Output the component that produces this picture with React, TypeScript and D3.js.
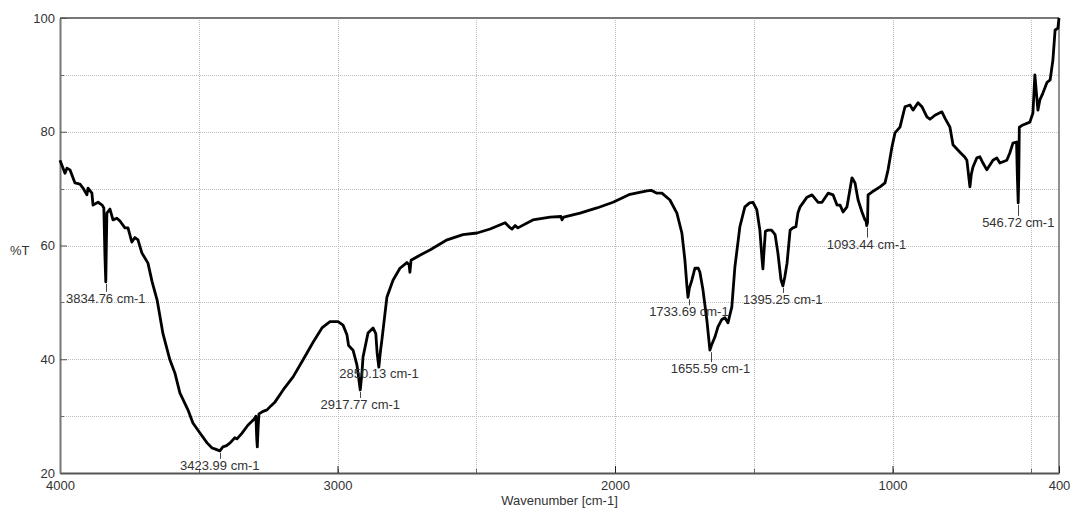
import React, { useRef, useEffect } from 'react';
import * as d3 from 'd3';

// Spectrum trace: [wavenumber cm-1, %T]
const spectrum: [number, number][] = [
  [4000, 75.0], [3982, 72.7], [3975, 73.6], [3964, 73.3], [3957, 72.4], [3946, 71.0],
  [3928, 70.8], [3917, 70.1], [3903, 68.9], [3899, 70.1], [3885, 69.2], [3881, 67.1],
  [3863, 67.6], [3848, 67.1], [3842, 66.6], [3838, 58.0], [3835, 53.6], [3833, 60.0],
  [3831, 65.7], [3820, 66.4], [3809, 64.5], [3795, 64.8], [3784, 64.3], [3766, 63.1],
  [3755, 63.1], [3741, 60.6], [3730, 61.4], [3719, 61.0], [3705, 58.7], [3683, 56.9],
  [3668, 53.6], [3650, 50.4], [3629, 44.5], [3604, 39.9], [3586, 37.6], [3568, 34.1],
  [3539, 31.1], [3521, 28.8], [3495, 27.0], [3470, 25.3], [3452, 24.4], [3440, 24.2],
  [3424, 23.9], [3413, 24.6], [3400, 24.8], [3387, 25.3], [3370, 26.2], [3362, 26.0],
  [3344, 27.0], [3323, 28.4], [3310, 29.0], [3300, 29.5], [3294, 30.0], [3291, 26.0],
  [3289, 24.6], [3286, 28.0], [3283, 30.4], [3270, 30.8], [3254, 31.1], [3240, 31.8],
  [3225, 32.5], [3196, 34.6], [3160, 36.9], [3124, 39.9], [3088, 43.0], [3056, 45.5],
  [3027, 46.6], [2998, 46.6], [2980, 46.0], [2966, 44.3], [2960, 42.4], [2944, 41.6],
  [2930, 39.0], [2918, 34.6], [2912, 37.5], [2908, 40.4], [2890, 44.6], [2872, 45.5],
  [2862, 44.5], [2857, 41.0], [2851, 38.6], [2845, 41.5], [2840, 43.4], [2822, 50.9],
  [2800, 53.9], [2775, 56.0], [2750, 57.0], [2742, 56.6], [2739, 55.3], [2735, 57.4],
  [2703, 58.3], [2667, 59.2], [2605, 61.0], [2548, 61.9], [2497, 62.2], [2450, 62.9],
  [2396, 64.0], [2380, 63.2], [2371, 62.9], [2360, 63.5], [2350, 63.1], [2296, 64.5],
  [2234, 65.0], [2195, 65.1], [2191, 64.5], [2185, 65.0], [2126, 65.7], [2065, 66.6],
  [2007, 67.6], [1946, 69.0], [1885, 69.6], [1870, 69.7], [1849, 69.2], [1831, 69.2],
  [1802, 68.0], [1777, 65.7], [1759, 62.2], [1748, 57.4], [1741, 53.0], [1737, 50.9],
  [1732, 52.5], [1723, 53.9], [1712, 56.0], [1700, 56.0], [1694, 55.3], [1683, 52.2],
  [1669, 46.9], [1658, 41.6], [1652, 42.5], [1640, 43.9], [1629, 45.7], [1615, 47.0],
  [1604, 47.3], [1593, 46.4], [1579, 49.2], [1568, 56.2], [1550, 63.3], [1532, 66.8],
  [1515, 67.5], [1503, 67.6], [1489, 66.3], [1478, 62.7], [1470, 57.5], [1467, 55.9],
  [1463, 59.0], [1458, 62.5], [1449, 62.7], [1436, 62.7], [1423, 61.9], [1413, 58.7],
  [1402, 54.0], [1395, 52.9], [1388, 54.5], [1380, 56.9], [1369, 62.7], [1359, 63.1],
  [1348, 63.3], [1341, 65.7], [1333, 66.8], [1308, 68.5], [1290, 68.9], [1268, 67.6],
  [1254, 67.6], [1232, 69.2], [1214, 68.9], [1200, 67.1], [1189, 67.1], [1178, 65.9],
  [1164, 66.8], [1146, 71.9], [1135, 71.0], [1124, 68.0], [1110, 65.9], [1099, 64.5],
  [1096, 64.5], [1093, 63.5], [1090, 64.0], [1088, 68.9], [1074, 69.4], [1045, 70.3],
  [1027, 71.0], [1016, 73.3], [1002, 77.3], [991, 79.8], [973, 80.8], [955, 84.4],
  [937, 84.7], [926, 83.8], [908, 85.1], [894, 84.4], [876, 82.6], [865, 82.2],
  [847, 82.9], [822, 83.5], [811, 82.4], [793, 80.8], [782, 77.7], [757, 76.4],
  [739, 75.5], [732, 75.0], [725, 72.0], [721, 70.3], [716, 72.5], [710, 73.8],
  [696, 75.4], [685, 75.6], [674, 74.5], [660, 73.3], [638, 75.0], [624, 75.4],
  [613, 74.5], [588, 75.0], [577, 76.3], [566, 78.0], [553, 78.2], [550, 72.0],
  [547, 67.5], [545, 72.0], [543, 80.8], [530, 81.2], [505, 81.7], [494, 83.3],
  [490, 87.0], [487, 90.0], [476, 83.8], [469, 85.6], [458, 86.8], [443, 88.7],
  [432, 89.1], [422, 92.6], [414, 97.9], [404, 98.2], [400, 100.0],
];

// Peak annotations
const peakWavenumbers = [3834.76, 3423.99, 2917.77, 2850.13, 1733.69, 1655.59, 1395.25, 1093.44, 546.72];
const peakDips = [3835, 3424, 2918, 2851, 1737, 1658, 1395, 1093, 547];
// label baseline offset below the dip (px) and whether a marker tick is drawn
const peakLabelOffset = [21, 19, 19, 11, 19, 23, 18, 23, 24];
const peakHasTick = [true, true, true, false, true, true, true, true, true];

const xTickLabels = [4000, 3000, 2000, 1000, 400];
const yTickLabels = [20, 40, 60, 80, 100];
const xGrid = [3500, 3000, 2500, 2000, 1500, 1000, 500];
const yGrid = [30, 40, 50, 60, 70, 80, 90];

const FONT = '"Liberation Sans", Arial, sans-serif';

const App = () => {
  const svgRef = useRef<SVGSVGElement>(null);

  useEffect(() => {
    const svg = d3.select(svgRef.current);
    svg.selectAll('*').remove();

    const left = 60, right = 1059, top = 18, bottom = 473;
    const x = d3.scaleLinear().domain([4000, 400]).range([left, right]);
    const y = d3.scaleLinear().domain([20, 100]).range([bottom, top]);

    svg.append('rect').attr('width', 1070).attr('height', 508).attr('fill', '#fff');

    // grid
    const grid = svg.append('g')
      .attr('stroke', '#bdbdbd')
      .attr('stroke-width', 1)
      .attr('stroke-dasharray', '1,1');
    grid.selectAll('line.v').data(xGrid).join('line')
      .attr('x1', d => Math.round(x(d)) + 0.5).attr('x2', d => Math.round(x(d)) + 0.5)
      .attr('y1', top).attr('y2', bottom);
    grid.selectAll('line.h').data(yGrid).join('line')
      .attr('class', 'h')
      .attr('y1', d => Math.round(y(d)) + 0.5).attr('y2', d => Math.round(y(d)) + 0.5)
      .attr('x1', left).attr('x2', right);

    // frame
    svg.append('line').attr('x1', left).attr('x2', right).attr('y1', top).attr('y2', top)
      .attr('stroke', '#777').attr('stroke-width', 2);
    svg.append('line').attr('x1', right).attr('x2', right).attr('y1', top).attr('y2', bottom)
      .attr('stroke', '#222').attr('stroke-width', 1);

    // minor ticks
    const minor = svg.append('g').attr('stroke', '#666').attr('stroke-width', 1);
    minor.selectAll('line.xm').data(d3.range(3500, 400, -500)).join('line')
      .attr('class', 'xm')
      .attr('x1', d => Math.round(x(d)) + 0.5).attr('x2', d => Math.round(x(d)) + 0.5)
      .attr('y1', bottom).attr('y2', bottom - 4);
    minor.selectAll('line.ym').data(d3.range(30, 100, 20)).join('line')
      .attr('class', 'ym')
      .attr('y1', d => Math.round(y(d)) + 0.5).attr('y2', d => Math.round(y(d)) + 0.5)
      .attr('x1', left).attr('x2', left + 4);

    // axes
    const xAxis = d3.axisBottom(x).tickValues(xTickLabels).tickFormat(d3.format('d'))
      .tickSizeInner(-7).tickSizeOuter(0).tickPadding(8);
    const gx = svg.append('g').attr('transform', `translate(0,${bottom})`).call(xAxis);
    gx.select('.domain').attr('stroke', '#555').attr('stroke-width', 2);
    gx.selectAll('.tick line').attr('stroke', '#222');
    gx.selectAll('.tick text').style('font-family', FONT).style('font-size', '13px').attr('fill', '#333');

    const yAxis = d3.axisLeft(y).tickValues(yTickLabels).tickFormat(d3.format('d'))
      .tickSizeInner(-7).tickSizeOuter(0).tickPadding(5);
    const gy = svg.append('g').attr('transform', `translate(${left},0)`).call(yAxis);
    gy.select('.domain').attr('stroke', '#777').attr('stroke-width', 2);
    gy.selectAll('.tick line').attr('stroke', '#555');
    gy.selectAll('.tick text').style('font-family', FONT).style('font-size', '13px').attr('fill', '#333');

    // axis titles
    svg.append('text')
      .attr('x', (left + right) / 2).attr('y', 505)
      .attr('text-anchor', 'middle')
      .style('font-family', FONT).style('font-size', '13px').attr('fill', '#333')
      .text('Wavenumber [cm-1]');
    svg.append('text')
      .attr('x', 10).attr('y', 255)
      .style('font-family', FONT).style('font-size', '13px').attr('fill', '#333')
      .text('%T');

    // spectrum
    const line = d3.line<[number, number]>().x(d => x(d[0])).y(d => y(d[1]));
    svg.append('path')
      .datum(spectrum)
      .attr('d', line)
      .attr('fill', 'none')
      .attr('stroke', '#000')
      .attr('stroke-width', 2.8)
      .attr('stroke-linejoin', 'round');

    // peak labels
    peakWavenumbers.forEach((wn, i) => {
      const dip = spectrum.find(p => p[0] === peakDips[i]);
      const py = y(dip ? dip[1] : 50);
      const px = x(wn);
      if (peakHasTick[i]) {
        svg.append('line')
          .attr('x1', Math.round(px) + 0.5).attr('x2', Math.round(px) + 0.5)
          .attr('y1', py + 2).attr('y2', py + peakLabelOffset[i] - 11)
          .attr('stroke', '#444').attr('stroke-width', 1);
      }
      svg.append('text')
        .attr('x', px).attr('y', py + peakLabelOffset[i])
        .attr('text-anchor', 'middle')
        .style('font-family', FONT).style('font-size', '13px').attr('fill', '#333')
        .text(`${wn.toFixed(2)} cm-1`);
    });
  }, []);

  return (
    <svg ref={svgRef} width={1070} height={508}
      style={{ position: 'absolute', left: 0, top: 0, display: 'block' }} />
  );
};

export default App;
